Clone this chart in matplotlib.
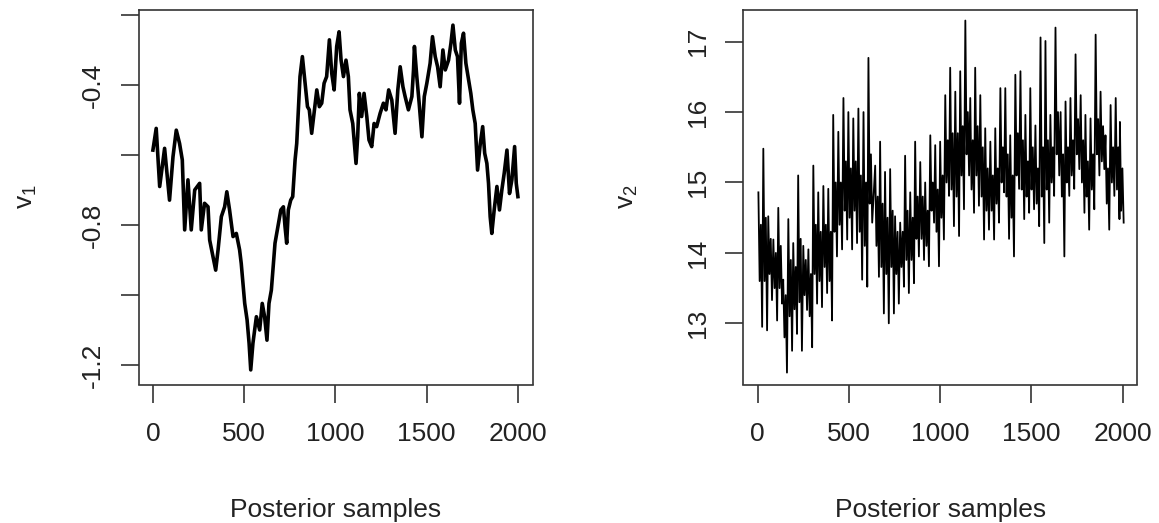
import numpy as np
import matplotlib
matplotlib.use("Agg")
import matplotlib.pyplot as plt

plt.rcParams['font.family'] = ['Liberation Sans', 'DejaVu Sans']
plt.rcParams['mathtext.fontset'] = 'custom'
plt.rcParams['mathtext.rm'] = 'Liberation Sans'

# v1 trace
v1_iter = [0, 18, 37, 64, 91, 110, 128, 146, 161, 174, 192, 210, 229, 256, 265, 283,
           302, 311, 329, 344, 357, 375, 393, 405, 420, 439, 457, 475, 484, 503, 516,
           527, 536, 548, 567, 585, 599, 612, 625, 636, 649, 669, 688, 701, 715, 724,
           733, 742, 755, 766, 779, 788, 797, 806, 819, 834, 847, 857, 870, 883, 898,
           912, 925, 938, 952, 967, 980, 993, 1007, 1020, 1031, 1044, 1058, 1071, 1080,
           1095, 1104, 1113, 1122, 1131, 1144, 1157, 1172, 1184, 1199, 1212, 1226, 1245,
           1263, 1277, 1292, 1309, 1327, 1342, 1355, 1370, 1382, 1400, 1419, 1428, 1433,
           1446, 1459, 1474, 1487, 1501, 1519, 1532, 1547, 1560, 1574, 1589, 1602, 1620,
           1633, 1644, 1657, 1669, 1680, 1690, 1702, 1715, 1730, 1742, 1753, 1766, 1779,
           1794, 1807, 1818, 1830, 1839, 1848, 1857, 1870, 1885, 1899, 1912, 1925, 1940,
           1954, 1967, 1982, 1991, 2000]
v1_vals = [-0.586, -0.524, -0.690, -0.581, -0.729, -0.605, -0.529, -0.567, -0.614, -0.814,
           -0.671, -0.814, -0.700, -0.681, -0.814, -0.738, -0.748, -0.843, -0.890, -0.929,
           -0.871, -0.776, -0.748, -0.705, -0.757, -0.833, -0.824, -0.871, -0.910, -1.024,
           -1.071, -1.138, -1.214, -1.138, -1.062, -1.100, -1.024, -1.062, -1.129, -1.024,
           -0.986, -0.852, -0.795, -0.757, -0.748, -0.805, -0.852, -0.757, -0.729, -0.719,
           -0.614, -0.567, -0.471, -0.376, -0.319, -0.395, -0.462, -0.471, -0.538, -0.481,
           -0.414, -0.462, -0.452, -0.395, -0.376, -0.271, -0.367, -0.414, -0.290, -0.248,
           -0.329, -0.376, -0.329, -0.376, -0.471, -0.510, -0.567, -0.624, -0.548, -0.424,
           -0.490, -0.424, -0.490, -0.557, -0.576, -0.510, -0.519, -0.481, -0.452, -0.471,
           -0.414, -0.443, -0.538, -0.414, -0.348, -0.405, -0.433, -0.471, -0.433, -0.357,
           -0.290, -0.376, -0.452, -0.548, -0.433, -0.395, -0.338, -0.262, -0.319, -0.348,
           -0.405, -0.300, -0.357, -0.329, -0.281, -0.229, -0.300, -0.319, -0.452, -0.281,
           -0.252, -0.338, -0.386, -0.424, -0.471, -0.510, -0.643, -0.567, -0.519, -0.595,
           -0.624, -0.681, -0.776, -0.824, -0.757, -0.690, -0.757, -0.700, -0.652, -0.586,
           -0.710, -0.671, -0.576, -0.681, -0.719]

# v2 trace: per window centre, the extreme spikes and the dense core band
v2_iter = [14, 41, 68, 96, 123, 150, 178, 205, 232, 260, 288, 315, 342, 370, 397, 424,
           452, 480, 507, 534, 562, 590, 617, 654, 681, 708, 736, 763, 791, 818, 846,
           873, 901, 928, 956, 983, 1010, 1038, 1065, 1093, 1120, 1148, 1175, 1202, 1230,
           1257, 1285, 1312, 1340, 1367, 1394, 1422, 1450, 1477, 1504, 1532, 1560, 1587,
           1614, 1642, 1670, 1697, 1724, 1752, 1780, 1806, 1834, 1862, 1889, 1916, 1944,
           1972, 1995]
v2_high = [14.86, 15.48, 14.52, 14.19, 14.64, 13.62, 14.48, 14.14, 15.10, 14.10, 14.05,
           15.24, 14.86, 14.95, 14.91, 15.96, 15.72, 16.20, 16.00, 15.91, 16.05, 16.00,
           16.77, 15.24, 15.58, 15.15, 15.19, 14.52, 14.43, 15.38, 14.86, 15.58, 15.29,
           15.00, 15.67, 15.53, 15.58, 16.24, 16.63, 16.29, 16.58, 17.30, 16.20, 16.63,
           16.24, 15.77, 15.58, 15.77, 16.34, 16.34, 15.67, 16.53, 16.58, 15.96, 16.34,
           15.81, 17.06, 17.01, 15.96, 17.20, 16.00, 16.15, 16.20, 16.82, 16.24, 15.96,
           15.91, 17.10, 16.29, 15.67, 16.10, 16.20, 15.86]
v2_low = [12.95, 12.90, 13.33, 13.04, 13.28, 12.30, 12.61, 12.85, 12.61, 13.19, 12.66,
          13.28, 13.23, 13.43, 13.04, 13.95, 14.05, 14.19, 14.05, 14.14, 13.62, 13.52,
          14.43, 13.66, 13.14, 13.00, 13.14, 13.28, 13.52, 13.43, 13.57, 13.95, 13.90,
          13.81, 14.43, 13.81, 14.19, 14.81, 14.38, 14.24, 14.62, 15.10, 14.57, 14.67,
          14.19, 14.33, 14.19, 14.43, 14.86, 14.20, 13.95, 14.91, 14.48, 14.57, 14.62,
          14.38, 14.14, 14.43, 14.81, 15.10, 13.95, 14.81, 14.91, 15.19, 14.57, 14.33,
          14.62, 15.10, 15.19, 14.33, 14.81, 14.48, 14.43]
v2_core_high = [14.4, 14.5, 14.2, 14.0, 14.1, 13.4, 13.9, 13.8, 14.2, 13.9, 13.7, 14.4,
                14.3, 14.4, 14.3, 15.0, 15.0, 15.3, 15.2, 15.3, 15.1, 15.0, 15.4, 14.8,
                14.7, 14.5, 14.6, 14.3, 14.3, 14.6, 14.5, 14.8, 14.8, 14.6, 15.0, 14.9,
                15.1, 15.6, 15.7, 15.7, 15.8, 16.0, 15.6, 15.8, 15.5, 15.2, 15.1, 15.2,
                15.5, 15.4, 15.1, 15.7, 15.6, 15.3, 15.5, 15.2, 15.5, 15.6, 15.5, 16.0,
                15.4, 15.5, 15.6, 15.9, 15.6, 15.3, 15.4, 15.9, 15.8, 15.2, 15.5, 15.5,
                15.2]
v2_core_low = [13.6, 13.6, 13.7, 13.5, 13.5, 12.8, 13.1, 13.2, 13.3, 13.4, 13.1, 13.7,
               13.6, 13.8, 13.6, 14.3, 14.4, 14.6, 14.5, 14.6, 14.3, 14.1, 14.7, 14.1,
               13.8, 13.7, 13.8, 13.7, 13.8, 13.9, 13.9, 14.2, 14.2, 14.1, 14.6, 14.3,
               14.5, 15.0, 14.9, 14.8, 15.1, 15.4, 14.9, 15.1, 14.8, 14.6, 14.6, 14.7,
               15.0, 14.8, 14.5, 15.1, 14.9, 14.8, 14.9, 14.7, 14.8, 14.9, 15.0, 15.4,
               14.8, 15.0, 15.1, 15.4, 15.0, 14.8, 14.9, 15.4, 15.3, 14.7, 15.0, 14.9,
               14.6]

v1_ticks = [-1.2, -1.0, -0.8, -0.6, -0.4, -0.2]
v1_ticklabels = ['-1.2', '', '-0.8', '', '-0.4', '']
v2_ticks = [13, 14, 15, 16, 17]
x_ticks = [0, 500, 1000, 1500, 2000]

W, H = 1159, 523
fig = plt.figure(figsize=(W / 100, H / 100), dpi=100)

def px_axes(x0, y0, x1, y1):
    return fig.add_axes([x0 / W, 1 - y1 / H, (x1 - x0) / W, (y1 - y0) / H])

ax1 = px_axes(138.5, 9.5, 532.5, 384.5)
ax2 = px_axes(743.3, 9.5, 1137.3, 384.5)

ax1.plot(v1_iter, v1_vals, color='black', lw=2.6)

# each window drawn as spike -> core -> core -> spike, giving the dense trace look
xs, ys = [], []
for c, hi, ch, cl, lo in zip(v2_iter, v2_high, v2_core_high, v2_core_low, v2_low):
    xs += [c - 10.3, c - 3.4, c + 3.4, c + 10.3]
    ys += [hi, cl, ch, lo]
ax2.plot(xs, ys, color='black', lw=1.3)

ax1.set_ylim(-1.2557, -0.1843)
ax2.set_ylim(12.131, 17.457)

for ax in (ax1, ax2):
    ax.set_xlim(-79, 2080)
    ax.set_xticks(x_ticks)
    ax.set_xticklabels([str(t) for t in x_ticks])
    for s in ax.spines.values():
        s.set_linewidth(1.2)
        s.set_color('#333333')
    ax.tick_params(axis='both', length=13, width=1.2, color='#333333',
                   labelsize=19, labelcolor='#222222')
    ax.tick_params(axis='x', pad=14)
    ax.tick_params(axis='y', pad=11, labelrotation=90)

ax1.set_yticks(v1_ticks)
ax1.set_yticklabels(v1_ticklabels)
ax2.set_yticks(v2_ticks)
ax2.set_yticklabels([str(t) for t in v2_ticks])
for ax in (ax1, ax2):
    plt.setp(ax.get_yticklabels(), va='center')

# axis titles
fig.text(335.5 / W, 1 - 516.7 / H, 'Posterior samples', ha='center', va='baseline',
         fontsize=19, color='#222222')
fig.text(940.3 / W, 1 - 516.7 / H, 'Posterior samples', ha='center', va='baseline',
         fontsize=19, color='#222222')
fig.text(27 / W, 1 - 197 / H, r'$\mathregular{v_1}$', ha='center', va='center',
         rotation=90, fontsize=19, color='#222222')
fig.text(628 / W, 1 - 197 / H, r'$\mathregular{v_2}$', ha='center', va='center',
         rotation=90, fontsize=19, color='#222222')

fig.savefig('out.png', dpi=100, facecolor='white')
